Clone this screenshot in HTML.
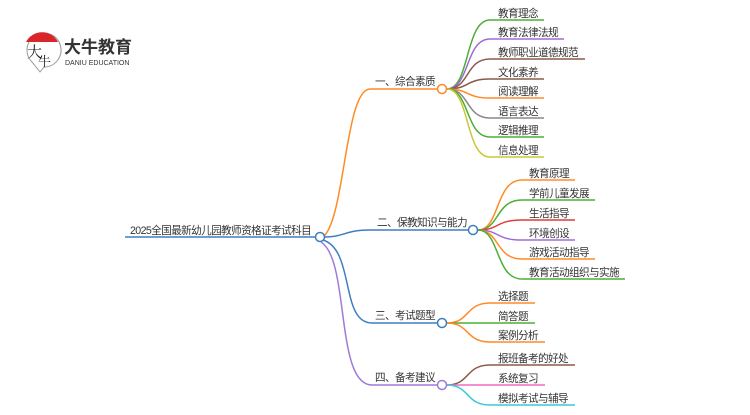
<!DOCTYPE html>
<html><head><meta charset="utf-8"><style>
html,body{margin:0;padding:0;background:#fff;}
svg text{font-family:"Liberation Sans","Noto Sans CJK SC",sans-serif;font-size:10.6px;letter-spacing:-0.6px;fill:#333;}
</style></head><body>
<svg width="750" height="410" viewBox="0 0 750 410" xmlns="http://www.w3.org/2000/svg">
<g>
<path d="M32 62 A17 17 0 1 1 44 67 L40 72 Z" fill="#fff" stroke="#999" stroke-width="1"/>
<path d="M26 42 A18 18 0 0 1 58 42 Z" fill="#d8262b"/>
<text x="27" y="57" style="font-size:15px;letter-spacing:0;fill:#222;font-family:'Noto Serif CJK SC',serif">大</text>
<text x="38" y="66" style="font-size:13px;letter-spacing:0;fill:#222;font-family:'Noto Serif CJK SC',serif">牛</text>
<text x="64" y="53" style="font-size:17px;letter-spacing:0;font-weight:bold;fill:#333">大牛教育</text>
<text x="65" y="65" style="font-size:7px;letter-spacing:0;fill:#333">DANIU EDUCATION</text>
</g>
<g fill="none" stroke-width="1.5">
<line x1="125" y1="237" x2="316" y2="237" stroke="#3d7fc0"/>
<path d="M323 237 C345 220,345 89,370 89 L437 89" stroke="#ff8a26"/>
<path d="M323 237 C345 237,345 230,370 230 L468 230" stroke="#3d7fc0"/>
<path d="M323 240 C355 250,340 323,372 323 L437 323" stroke="#3d7fc0"/>
<path d="M321 242 C350 260,335 385,372 385 L437 385" stroke="#a07ad8"/>
<path d="M447 89 C470 89,465 20,490 20 L544 20" stroke="#4caf32"/>
<path d="M447 89 C470 89,465 39,490 39 L564 39" stroke="#a06ad8"/>
<path d="M447 89 C470 89,465 59,490 59 L585 59" stroke="#8d5a4a"/>
<path d="M447 89 C470 89,465 79,490 79 L544 79" stroke="#8d5a4a"/>
<path d="M447 89 C470 89,465 98,490 98 L544 98" stroke="#ff8a26"/>
<path d="M447 89 C470 89,465 118,490 118 L544 118" stroke="#888"/>
<path d="M447 89 C470 89,465 137,490 137 L544 137" stroke="#4caf32"/>
<path d="M447 89 C470 89,465 157,490 157 L544 157" stroke="#c8c83a"/>
<path d="M478 230 C500 230,495 180,522 180 L575 180" stroke="#ff8a26"/>
<path d="M478 230 C500 230,495 200,522 200 L595 200" stroke="#4caf32"/>
<path d="M478 230 C500 230,495 220,522 220 L575 220" stroke="#e03a3a"/>
<path d="M478 230 C500 230,495 240,522 240 L575 240" stroke="#a06ad8"/>
<path d="M478 230 C500 230,495 259,522 259 L595 259" stroke="#ff8a26"/>
<path d="M478 230 C500 230,495 279,522 279 L625 279" stroke="#4caf32"/>
<path d="M447 323 C470 323,465 303,490 303 L535 303" stroke="#ff8a26"/>
<path d="M447 323 L535 323" stroke="#4caf32"/>
<path d="M447 323 C470 323,465 342,490 342 L545 342" stroke="#ff8a26"/>
<path d="M447 385 C470 385,465 365,490 365 L575 365" stroke="#8d5a4a"/>
<path d="M447 385 L545 385" stroke="#f06ac8"/>
<path d="M447 385 C470 385,465 405,490 405 L575 405" stroke="#3ac8d8"/>
<circle cx="320" cy="237" r="4.5" fill="#fff" stroke="#3d7fc0"/>
<circle cx="442" cy="89" r="4.5" fill="#fff" stroke="#ff8a26"/>
<circle cx="473" cy="230" r="4.5" fill="#fff" stroke="#3d7fc0"/>
<circle cx="442" cy="323" r="4.5" fill="#fff" stroke="#3d7fc0"/>
<circle cx="442" cy="385" r="4.5" fill="#fff" stroke="#a07ad8"/>
</g>
<text x="130" y="234">2025全国最新幼儿园教师资格证考试科目</text>
<text x="375" y="85">一、综合素质</text>
<text x="377" y="226">二、保教知识与能力</text>
<text x="375" y="319">三、考试题型</text>
<text x="375" y="381">四、备考建议</text>
<text x="498" y="17">教育理念</text>
<text x="498" y="36">教育法律法规</text>
<text x="498" y="56">教师职业道德规范</text>
<text x="498" y="76">文化素养</text>
<text x="498" y="95">阅读理解</text>
<text x="498" y="115">语言表达</text>
<text x="498" y="134">逻辑推理</text>
<text x="498" y="154">信息处理</text>
<text x="529" y="177">教育原理</text>
<text x="529" y="197">学前儿童发展</text>
<text x="529" y="217">生活指导</text>
<text x="529" y="237">环境创设</text>
<text x="529" y="256">游戏活动指导</text>
<text x="529" y="276">教育活动组织与实施</text>
<text x="498" y="300">选择题</text>
<text x="498" y="320">简答题</text>
<text x="498" y="339">案例分析</text>
<text x="498" y="362">报班备考的好处</text>
<text x="498" y="382">系统复习</text>
<text x="498" y="402">模拟考试与辅导</text>
</svg>
</body></html>
